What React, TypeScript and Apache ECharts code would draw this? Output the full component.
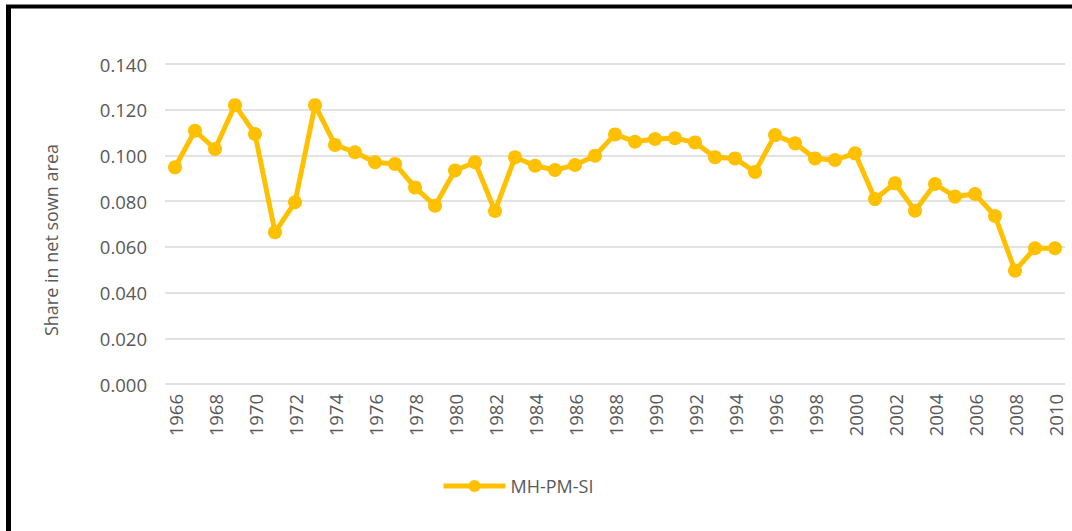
import React, { useEffect, useRef } from "react";
import * as echarts from "echarts";

const years: string[] = [
  "1966","1967","1968","1969","1970","1971","1972","1973","1974","1975",
  "1976","1977","1978","1979","1980","1981","1982","1983","1984","1985",
  "1986","1987","1988","1989","1990","1991","1992","1993","1994","1995",
  "1996","1997","1998","1999","2000","2001","2002","2003","2004","2005",
  "2006","2007","2008","2009","2010",
];

const seriesName = "MH-PM-SI";

const shareValues: number[] = [
  0.0948, 0.1108, 0.1028, 0.1220, 0.1094, 0.0664, 0.0795, 0.1220, 0.1046, 0.1014,
  0.0970, 0.0963, 0.0860, 0.0780, 0.0934, 0.0970, 0.0757, 0.0992, 0.0955, 0.0936,
  0.0958, 0.0999, 0.1092, 0.1060, 0.1072, 0.1075, 0.1057, 0.0992, 0.0987, 0.0928,
  0.1089, 0.1053, 0.0987, 0.0980, 0.1009, 0.0809, 0.0878, 0.0758, 0.0875, 0.0820,
  0.0831, 0.0735, 0.0496, 0.0594, 0.0594,
];

const yAxisTitle = "Share in net sown area";

export default function App() {
  const ref = useRef<HTMLDivElement>(null);

  useEffect(() => {
    if (!ref.current) return;
    const chart = echarts.init(ref.current, null, { renderer: "svg" });
    const font = "'Open Sans', sans-serif";
    const textColor = "#595959";
    chart.setOption({
      animation: false,
      backgroundColor: "#ffffff",
      grid: { left: 165, right: 7, top: 64, bottom: 147, containLabel: false },
      legend: {
        show: true,
        left: 436,
        top: 472,
        itemWidth: 62,
        itemHeight: 15,
        itemGap: 10,
        lineStyle: { width: 5 },
        textStyle: { color: textColor, fontFamily: font, fontSize: 18 },
        data: [seriesName],
      },
      xAxis: {
        type: "category",
        data: years,
        boundaryGap: true,
        axisLine: { show: false },
        axisTick: { show: false },
        axisLabel: {
          interval: 1,
          rotate: 90,
          margin: 10,
          color: textColor,
          fontFamily: font,
          fontSize: 18.5,
        },
        splitLine: { show: false },
      },
      yAxis: {
        type: "value",
        min: 0,
        max: 0.14,
        interval: 0.02,
        axisLine: { show: false },
        axisTick: { show: false },
        axisLabel: {
          margin: 18,
          color: textColor,
          fontFamily: font,
          fontSize: 18.5,
          formatter: (v: number) => v.toFixed(3),
        },
        splitLine: { show: true, lineStyle: { color: "#d9d9d9", width: 1.5 } },
      },
      series: [
        {
          name: seriesName,
          type: "line",
          data: shareValues,
          color: "#FFC000",
          symbol: "circle",
          symbolSize: 14,
          showSymbol: true,
          showAllSymbol: true,
          lineStyle: { color: "#FFC000", width: 5 },
          itemStyle: { color: "#FFC000" },
        },
      ],
      graphic: [
        {
          type: "line",
          shape: { x1: 8.5, y1: 5, x2: 8.5, y2: 531 },
          style: { stroke: "#000000", lineWidth: 5 },
        },
        {
          type: "line",
          shape: { x1: 6, y1: 6.5, x2: 1072, y2: 6.5 },
          style: { stroke: "#000000", lineWidth: 4 },
        },
        {
          type: "text",
          x: 51,
          y: 240,
          rotation: Math.PI / 2,
          style: {
            text: yAxisTitle,
            fill: textColor,
            font: "18px 'Open Sans', sans-serif",
            align: "center",
            verticalAlign: "middle",
          },
        },
      ],
    });
    return () => chart.dispose();
  }, []);

  return (
    <div
      ref={ref}
      style={{ position: "fixed", left: 0, top: 0, width: 1072, height: 531 }}
    />
  );
}
